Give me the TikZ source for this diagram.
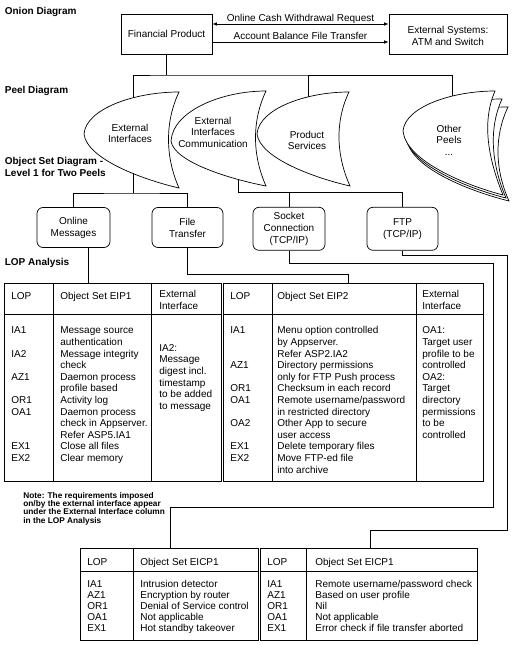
\documentclass[tikz,border=0pt]{standalone}
\usepackage{fontspec}
\setmainfont{Liberation Sans}
\usetikzlibrary{arrows.meta}
\newcommand\tabfont{\fontsize{10}{11.6}\selectfont}
\newcommand\btabfont{\fontsize{10}{11}\selectfont}
\newcommand\notefont{\bfseries\fontsize{8.3}{8.3}\selectfont\lineskiplimit-5pt\relax}
% #1,#2 tip; #3,#4 top point offset; #5,#6 bottom point offset; #7 options
\newcommand\peelshape[7]{\path[#7] (#1,#2) .. controls ({#1+2},{#2+0.6*(#4)}) and ({#1+0.53*(#3)},{#2+(#4)}) .. ({#1+(#3)},{#2+(#4)}) .. controls ({#1+(#3)-14},{#2+(#4)+0.31*((#6)-(#4))}) and ({#1+(#5)-14},{#2+(#6)-0.33*((#6)-(#4))}) .. ({#1+(#5)},{#2+(#6)}) .. controls ({#1+0.63*(#5)},{#2+0.85*(#6)}) and ({#1+3},{#2+0.47*(#6)}) .. (#1,#2) -- cycle;}
\begin{document}
\begin{tikzpicture}[x=1pt,y=-1pt,line width=0.7pt,
  box/.style={draw,inner sep=0,align=center,font=\fontsize{10}{12}\selectfont},
  rbox/.style={draw,rounded corners=6pt,inner sep=0,align=center,font=\fontsize{10}{12}\selectfont},
  txt/.style={inner sep=0,align=center,font=\fontsize{10}{12}\selectfont},
  peeltxt/.style={inner sep=0,align=center,font=\fontsize{10}{11.5}\selectfont},
  lbl/.style={anchor=base west,inner sep=0,font=\bfseries\fontsize{10}{12}\selectfont},
  lab/.style={inner sep=0,text depth=0pt,font=\fontsize{10}{12}\selectfont},
  tbl/.style={draw,inner sep=0},
  cell/.style={anchor=north west,inner sep=0,align=left,font=\tabfont},
  bcell/.style={anchor=north west,inner sep=0,align=left,font=\btabfont},
  head/.style={anchor=base west,inner sep=0,font=\tabfont},
  bhead/.style={anchor=base west,inner sep=0,font=\btabfont},
  arr/.style={-{Latex[length=4.5pt,width=3.6pt]}},
  darr/.style={{Latex[length=4.5pt,width=3.6pt]}-{Latex[length=4.5pt,width=3.6pt]}}]
\useasboundingbox (0,0) rectangle (514,645);

% onion diagram
\node[box,minimum width=91pt,minimum height=40pt] (FP) at (166.5,34) {Financial Product};
\node[box,minimum width=118pt,minimum height=40pt] (ES) at (448,34) {};
\node[txt,yshift=-2pt] (EStxt) at (ES.center) {External Systems:\\ATM and Switch};
\draw[darr] ([yshift=10pt]FP.east) -- node[lab,above=2.2pt] (a1) {Online Cash Withdrawal Request} ([yshift=10pt]ES.west);
\draw[arr] ([yshift=-8pt]FP.east) -- node[lab,above=2.2pt] (a2) {Account Balance File Transfer} ([yshift=-8pt]ES.west);

% rounded object set boxes
\node[rbox,minimum width=73pt,minimum height=40pt] (OM) at (73.5,227.5) {Online\\Messages};
\node[rbox,minimum width=71pt,minimum height=40pt] (FT) at (187.5,227.5) {File\\Transfer};
\node[rbox,minimum width=72pt,minimum height=43pt] (SC) at (289,228.8) {Socket\\Connection\\(TCP/IP)};
\node[rbox,minimum width=71pt,minimum height=43pt] (FTP) at (402.5,228.8) {FTP\\(TCP/IP)};

% connectors to and from peels (hidden inside the peels)
\coordinate (PC1) at (133,140);
\coordinate (PC2) at (238,150);
\coordinate (PC3) at (308,140);
\coordinate (PC4) at (452,140);
\coordinate (Bus) at (0,75);
\coordinate (Bus2) at (0,193);
\coordinate (Bus3) at (0,192);
\draw (FP.south) -- (FP.south |- Bus);
\draw (PC1) |- (FP.south |- Bus) -| (PC4);
\draw (PC3) -- (PC3 |- Bus);
\draw (PC1) -- (PC1 |- Bus2);
\draw (OM.north) |- (PC1 |- Bus2) -| (FT.north);
\draw (PC2) -- (PC2 |- Bus3) -| (FTP.north);
\draw (SC.north) -- (SC.north |- Bus3);

% peels
\peelshape{84}{134}{95}{-42}{95}{54}{fill=white}
\peelshape{171}{141}{95}{-50}{95}{45}{fill=white}
\peelshape{257}{134}{92}{-42}{93}{52}{fill=white}
\peelshape{84}{134}{95}{-42}{95}{54}{draw}
\peelshape{171}{141}{95}{-50}{95}{45}{draw}
\peelshape{257}{134}{92}{-42}{93}{52}{draw}
\peelshape{407}{139}{101}{-32}{102}{62}{draw,fill=white}
\peelshape{405}{135}{97}{-36}{101}{63}{draw,fill=white}
\peelshape{403}{131}{92}{-40}{100}{64}{draw,fill=white}
\node[peeltxt] (pt1) at (130,133.5) {External\\Interfaces};
\node[peeltxt] (pt2) at (213,132) {External\\Interfaces\\Communication};
\node[peeltxt] (pt3) at (307,140.5) {Product\\Services};
\node[peeltxt] (pt4) at (449,140) {Other\\Peels\\...};

% section labels
\node[lbl] (lOnion) at (4.5,14.6) {Onion Diagram};
\node[lbl] (lPeel) at (4.5,93.6) {Peel Diagram};
\node[lbl,anchor=north west,align=left] (lObj) at (4.5,156.6) {\rule{0pt}{8pt}Object Set Diagram -\\Level 1 for Two Peels};
\node[lbl] (lLOP) at (4.5,265.6) {LOP Analysis};

% tables
\node[tbl,minimum width=217pt,minimum height=198pt] (T1) at (112.5,382) {};
\node[tbl,minimum width=260pt,minimum height=198pt] (T2) at (353,382) {};
\node[tbl,minimum width=178pt,minimum height=92pt] (T3) at (169,594) {};
\node[tbl,minimum width=217pt,minimum height=92pt] (T4) at (368.5,594) {};
\draw ([xshift=50pt]T1.north west) -- ([xshift=50pt]T1.south west);
\draw ([xshift=148pt]T1.north west) -- ([xshift=148pt]T1.south west);
\draw ([yshift=-32pt]T1.north west) -- ([yshift=-32pt]T1.north east);
\draw ([xshift=50pt]T2.north west) -- ([xshift=50pt]T2.south west);
\draw ([xshift=194pt]T2.north west) -- ([xshift=194pt]T2.south west);
\draw ([yshift=-32pt]T2.north west) -- ([yshift=-32pt]T2.north east);
\draw ([xshift=54pt]T3.north west) -- ([xshift=54pt]T3.south west);
\draw ([yshift=-24pt]T3.north west) -- ([yshift=-24pt]T3.north east);
\draw ([xshift=47pt]T4.north west) -- ([xshift=47pt]T4.south west);
\draw ([yshift=-24pt]T4.north west) -- ([yshift=-24pt]T4.north east);

% connectors to tables
\coordinate (R1) at (493,507);
\coordinate (R2) at (507,530);
\draw ([xshift=14.5pt]OM.south) -- ([xshift=14.5pt]OM.south |- T1.north);
\draw (FT.south) -- ++(0,26) -| ([xshift=-5pt]T2.north);
\draw (SC.south) -- ++(0,13) -| (R1) -| ([xshift=1pt]T3.north);
\draw (FTP.south) -- ++(0,5) -| (R2) -| ([xshift=1.5pt]T4.north);

% table 1 text
\node[head] (h1a) at (11,299.5) {LOP};
\node[head] (h1b) at (60,299.5) {Object Set EIP1};
\node[cell] (h1c) at (159,289.4) {\strut External\\Interface};
\node[cell] (c1a) at (11,325.4) {\strut IA1\\\strut\\IA2\\\strut\\AZ1\\\strut\\OR1\\OA1\\\strut\\\strut\\EX1\\EX2};
\node[cell] (c1b) at (60,325.4) {\strut Message source\\authentication\\Message integrity\\check\\Daemon process\\profile based\\Activity log\\Daemon process\\check in Appserver.\\Refer ASP5.IA1\\Close all files\\Clear memory};
\node[cell] (c1c) at (159,342.8) {\strut IA2:\\Message\\digest incl.\\timestamp\\to be added\\to message};

% table 2 text
\node[head] (h2a) at (230,299.5) {LOP};
\node[head] (h2b) at (277,299.5) {Object Set EIP2};
\node[cell] (h2c) at (422,289.4) {\strut External\\Interface};
\node[cell] (c2a) at (230,325.4) {\strut IA1\\\strut\\\strut\\AZ1\\\strut\\OR1\\OA1\\\strut\\OA2\\\strut\\EX1\\EX2};
\node[cell] (c2b) at (277,325.4) {\strut Menu option controlled\\by Appserver.\\Refer ASP2.IA2\\Directory permissions\\only for FTP Push process\\Checksum in each record\\Remote username/password\\in restricted directory\\Other App to secure\\user access\\Delete temporary files\\Move FTP-ed file\\into archive};
\node[cell] (c2c) at (422,325.4) {\strut OA1:\\Target user\\profile to be\\controlled\\OA2:\\Target\\directory\\permissions\\to be\\controlled};

% note
\node[anchor=north west,inner sep=0,align=left,font=\notefont] (note) at (23,491.5) {\rule{0pt}{6.5pt}Note: The requirements imposed\\on/by the external interface appear\\under the External Interface column\\in the LOP Analysis};

% table 3 text
\node[bhead] (h3a) at (87,565.3) {LOP};
\node[bhead] (h3b) at (140,565.3) {Object Set EICP1};
\node[bcell] (c3a) at (87,579.8) {\strut IA1\\AZ1\\OR1\\OA1\\EX1};
\node[bcell] (c3b) at (140,579.8) {\strut Intrusion detector\\Encryption by router\\Denial of Service control\\Not applicable\\Hot standby takeover};

% table 4 text
\node[bhead] (h4a) at (267,565.3) {LOP};
\node[bhead] (h4b) at (315,565.3) {Object Set EICP1};
\node[bcell] (c4a) at (267,579.8) {\strut IA1\\AZ1\\OR1\\OA1\\EX1};
\node[bcell] (c4b) at (315,579.8) {\strut Remote username/password check\\Based on user profile\\Nil\\Not applicable\\Error check if file transfer aborted};
\end{tikzpicture}
\end{document}
